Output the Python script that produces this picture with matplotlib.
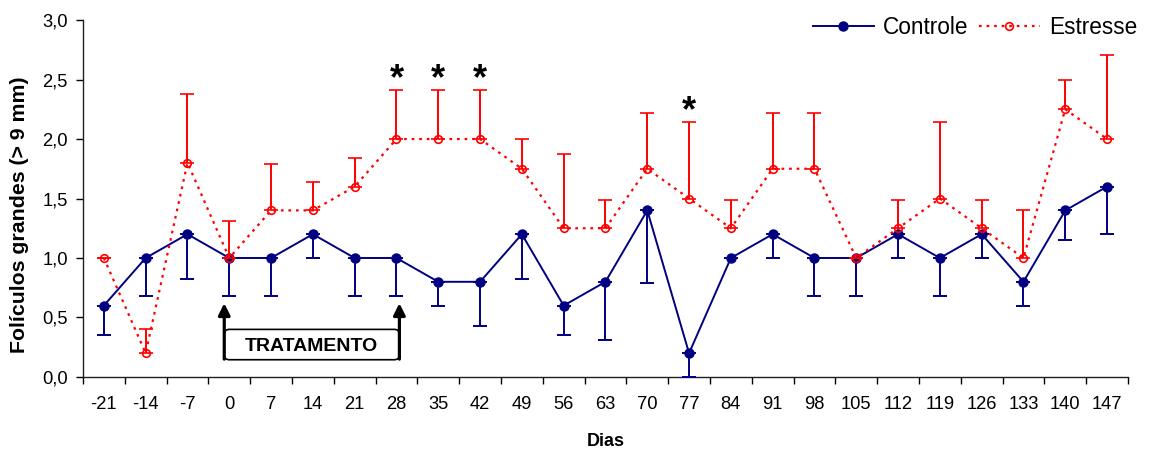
import matplotlib.pyplot as plt
from matplotlib.lines import Line2D
from matplotlib.patches import FancyBboxPatch

plt.rcParams["font.family"] = ["Liberation Sans", "DejaVu Sans"]

NAVY = "#000080"
RED = "#ff0000"
INK = "#000000"

dias = ["-21", "-14", "-7", "0", "7", "14", "21", "28", "35", "42", "49", "56", "63",
        "70", "77", "84", "91", "98", "105", "112", "119", "126", "133", "140", "147"]

controle = [0.6, 1.0, 1.2, 1.0, 1.0, 1.2, 1.0, 1.0, 0.8, 0.8, 1.2, 0.6, 0.8,
            1.4, 0.2, 1.0, 1.2, 1.0, 1.0, 1.2, 1.0, 1.2, 0.8, 1.4, 1.6]
controle_err = [0.25, 0.32, 0.38, 0.32, 0.32, 0.2, 0.32, 0.32, 0.2, 0.37, 0.38, 0.25, 0.49,
                0.61, 0.2, 0.0, 0.2, 0.32, 0.32, 0.2, 0.32, 0.2, 0.2, 0.25, 0.4]

estresse = [1.0, 0.2, 1.8, 1.0, 1.4, 1.4, 1.6, 2.0, 2.0, 2.0, 1.75, 1.25, 1.25,
            1.75, 1.5, 1.25, 1.75, 1.75, 1.0, 1.25, 1.5, 1.25, 1.0, 2.25, 2.0]
estresse_err = [0.0, 0.2, 0.58, 0.31, 0.39, 0.24, 0.24, 0.41, 0.41, 0.41, 0.25, 0.62, 0.24,
                0.47, 0.64, 0.24, 0.47, 0.47, 0.0, 0.24, 0.64, 0.24, 0.4, 0.25, 0.71]

signif = ["28", "35", "42", "77"]

x = list(range(len(dias)))
zeros = [0.0] * len(dias)

fig = plt.figure(figsize=(11.49, 4.53), dpi=100)
ax = fig.add_axes([0.0722, 0.1678, 0.9095, 0.788])

ctrl_style = dict(color=NAVY, lw=1.4, marker="o", markersize=6.5,
                  markerfacecolor=NAVY, markeredgecolor=NAVY)
estr_style = dict(color=RED, ls=(0, (1.2, 2.2)), lw=1.6, marker="o", markersize=5.5,
                  markerfacecolor="none", markeredgecolor=RED, markeredgewidth=1.2)

ax.errorbar(x, controle, yerr=[controle_err, zeros], ecolor=NAVY, elinewidth=1.4,
            capsize=4.7, capthick=1.4, zorder=3, **ctrl_style)
ax.errorbar(x, estresse, yerr=[zeros, estresse_err], ecolor=RED, elinewidth=1.4,
            capsize=4.7, capthick=1.4, zorder=4, **estr_style)

# asterisks over significant days
for d in signif:
    i = dias.index(d)
    ax.text(i, estresse[i] + estresse_err[i] + 0.09, "*", ha="center", va="center",
            fontsize=26, fontweight="bold", color=INK)

# treatment bracket between day 0 and day 28
x0, x1 = dias.index("0") - 0.12, dias.index("28") + 0.07
box = FancyBboxPatch((x0, 0.145), x1 - x0, 0.255,
                     boxstyle="round,pad=0,rounding_size=0.12", mutation_aspect=0.35,
                     facecolor="white", edgecolor=INK, lw=1.2, zorder=5)
ax.add_patch(box)
for xa in (x0, x1):
    ax.annotate("", xy=(xa, 0.62), xytext=(xa, 0.15),
                arrowprops=dict(arrowstyle="-|>,head_length=0.7,head_width=0.35",
                                lw=2.3, color=INK, shrinkA=0, shrinkB=0), zorder=6)
ax.text((x0 + x1) / 2, 0.255, "TRATAMENTO", ha="center", va="center",
        fontsize=14, fontweight="bold", color=INK, zorder=7)

ax.set_xlim(-0.5, len(dias) - 0.5)
ax.set_ylim(0, 3.0)
ax.set_xticks(x)
ax.set_xticklabels(dias)
ax.set_xticks([i + 0.5 for i in range(-1, len(dias))], minor=True)
ax.tick_params(axis="x", which="major", length=0, pad=14, labelsize=13.2)
ax.tick_params(axis="x", which="minor", length=5, width=1, direction="out")
yt = [0, 0.5, 1.0, 1.5, 2.0, 2.5, 3.0]
ax.set_yticks(yt)
ax.set_yticklabels([f"{v:.1f}".replace(".", ",") for v in yt])
ax.tick_params(axis="y", length=5, width=1, direction="out", labelsize=13.2, pad=6)

for s in ["top", "right"]:
    ax.spines[s].set_visible(False)
for s in ["left", "bottom"]:
    ax.spines[s].set_color("#202020")
    ax.spines[s].set_linewidth(1.0)

ax.set_xlabel("Dias", fontsize=13, fontweight="bold", labelpad=14)
ax.set_ylabel("Folículos grandes (> 9 mm)", fontsize=15.3, fontweight="bold")
ax.yaxis.set_label_coords(-0.052, 0.454)

handles = [Line2D([], [], **ctrl_style), Line2D([], [], **estr_style)]
fig.legend(handles, ["Controle", "Estresse"], loc="center right",
           bbox_to_anchor=(1137 / 1149, 1 - 27 / 453), ncol=2, frameon=False,
           fontsize=16.3, handlelength=2.7, handletextpad=0.4, columnspacing=0.45,
           borderpad=0, borderaxespad=0)

fig.savefig("out.png", dpi=100, facecolor="white")
